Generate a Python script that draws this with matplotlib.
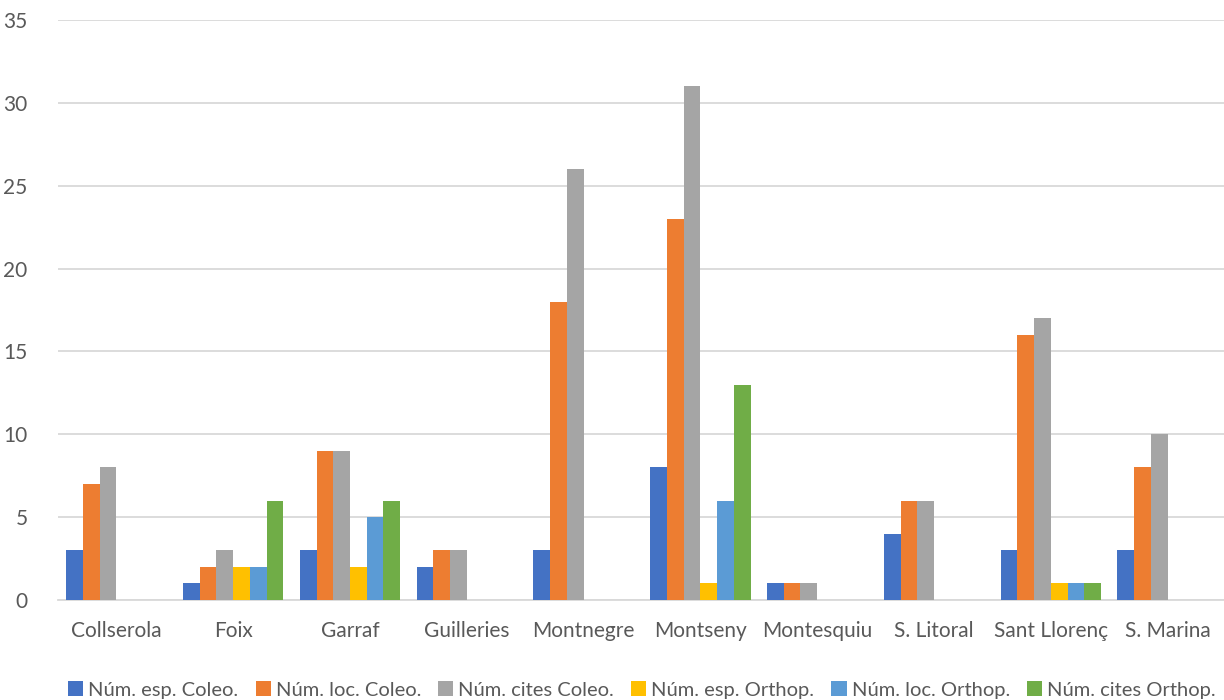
import matplotlib
matplotlib.use("Agg")
import matplotlib.pyplot as plt
import numpy as np

categories = ["Collserola", "Foix", "Garraf", "Guilleries", "Montnegre",
              "Montseny", "Montesquiu", "S. Litoral", "Sant Llorenç", "S. Marina"]
series_names = ["Núm. esp. Coleo.", "Núm. loc. Coleo.", "Núm. cites Coleo.",
                "Núm. esp. Orthop.", "Núm. loc. Orthop.", "Núm. cites Orthop."]
esp_coleo = [3, 1, 3, 2, 3, 8, 1, 4, 3, 3]
loc_coleo = [7, 2, 9, 3, 18, 23, 1, 6, 16, 8]
cites_coleo = [8, 3, 9, 3, 26, 31, 1, 6, 17, 10]
esp_orthop = [0, 2, 2, 0, 0, 1, 0, 0, 1, 0]
loc_orthop = [0, 2, 5, 0, 0, 6, 0, 0, 1, 0]
cites_orthop = [0, 6, 6, 0, 0, 13, 0, 0, 1, 0]
yticks = [0, 5, 10, 15, 20, 25, 30, 35]

series = [esp_coleo, loc_coleo, cites_coleo, esp_orthop, loc_orthop, cites_orthop]
colors = ["#4472C4", "#ED7D31", "#A5A5A5", "#FFC000", "#5B9BD5", "#70AD47"]

plt.rcParams['font.family'] = ['Lato', 'DejaVu Sans']

fig = plt.figure(figsize=(12.24, 7.0), dpi=100)
ax = fig.add_axes([58/1224, 100/700, 1168/1224, 580/700])

x = np.arange(len(categories))
bw = 0.86 / 6
for i, (vals, c, name) in enumerate(zip(series, colors, series_names)):
    ax.bar(x - 0.43 + bw * (i + 0.5), vals, width=bw, color=c, label=name,
           edgecolor="none", zorder=3)

ax.set_xlim(-0.5, 9.5)
ax.set_ylim(0, 35)
ax.set_yticks(yticks)
ax.set_yticklabels([str(t) for t in yticks])
ax.set_xticks(x)
ax.set_xticklabels(categories)
ax.grid(axis="y", color="#D9D9D9", linewidth=1.3, zorder=0)
for s in ["top", "right", "left"]:
    ax.spines[s].set_visible(False)
ax.spines["bottom"].set_color("#D9D9D9")
ax.spines["bottom"].set_linewidth(1.3)
ax.tick_params(axis="both", length=0, colors="#595959", labelsize=15)
ax.tick_params(axis="x", pad=15)
ax.tick_params(axis="y", pad=22)

leg = fig.legend(loc="center", bbox_to_anchor=(0.5245, 10/700), ncol=6, frameon=False,
                 fontsize=14.5, handlelength=0.75, handleheight=0.75, handletextpad=0.25,
                 columnspacing=0.85, labelcolor="#595959")

fig.savefig("out.png", dpi=100)
